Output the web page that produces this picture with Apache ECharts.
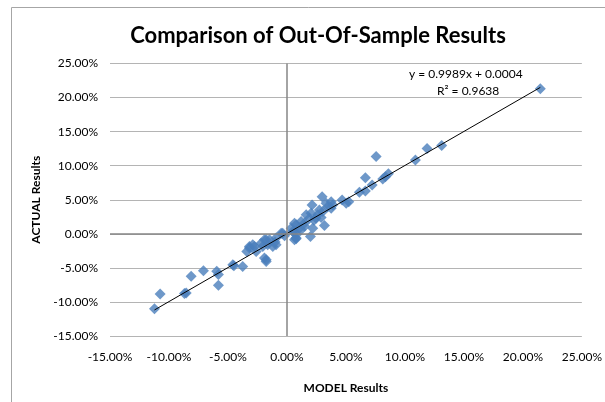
<!DOCTYPE html>
<html>
<head>
<meta charset="utf-8">
<script src="https://cdn.jsdelivr.net/npm/echarts@6/dist/echarts.min.js"></script>
<style>
html,body{margin:0;padding:0;background:#fff;}
#c{width:605px;height:402px;}
</style>
</head>
<body>
<div id="c"></div>
<script>
var chartTitle = 'Comparison of Out-Of-Sample Results';
var xAxisName = 'MODEL Results';
var yAxisName = 'ACTUAL Results';
var axisTicks = [-15, -10, -5, 0, 5, 10, 15, 20, 25];
// values in percent
var modelX = [21.48, 13.12, 11.88, 10.89, 7.56, 8.6, 8.35, 8.12, 7.22, 6.65, 6.65, 6.14,
  5.24, 4.68, 5.02, 3.75, 3.46, 2.98, 2.13, 3.18, 1.99, 0.78, 1.63, 3.32, 3.75, 3.88,
  2.75, 3.04, 2.61, 2.05, 2.47, 1.91, 1.2, 1.48, 0.64, 0.78, 1.06, 2.19, 0.36, 0.49,
  0.64, 1.2, 0.78, 0.64, 0.78, 2.3, 2.9, 1.5,
  -0.36, -0.49, -0.92, -1.48, -1.76, -1.91, -2.19, -1.63, -2.05, -1.2, -0.92, -2.9,
  -3.18, -2.61, -3.18, -2.75, -1.76, -1.91, -1.76, -3.75, -4.59, -4.5, -5.95, -5.81,
  -5.81, -7.08, -8.12, -8.54, -8.69, -10.75, -11.23, -1.0, -0.2, -3.4];
var actualY = [21.3, 12.97, 12.53, 10.82, 11.36, 8.82, 8.38, 8.04, 7.16, 8.23, 6.29, 6.1,
  4.72, 4.97, 4.49, 4.72, 3.99, 5.45, 4.24, 1.21, -0.39, -0.73, 2.78, 4.49, 3.76, 4.24,
  3.51, 3.26, 2.78, 3.03, 2.29, 2.29, 1.8, 1.56, 1.56, 1.32, 0.83, 0.83, 0.83, 0.34,
  0.34, 0.58, -0.15, -0.88, -0.63, 2.0, 2.4, 1.1,
  0.1, 0.1, -0.63, -0.88, -0.88, -0.88, -1.37, -1.61, -1.86, -1.86, -1.61, -1.61,
  -2.09, -2.59, -1.86, -1.86, -3.8, -3.55, -4.05, -4.78, -4.53, -4.68, -5.51, -5.99,
  -7.55, -5.41, -6.24, -8.67, -8.77, -8.82, -11.0, -1.2, -0.3, -2.6];
var trendSlope = 0.9989;
var trendIntercept = 0.0004;
var rSquared = 0.9638;

var points = modelX.map(function (x, i) { return [x, actualY[i]]; });
var xmin = Math.min.apply(null, modelX), xmax = Math.max.apply(null, modelX);
var trend = [[xmin, trendSlope * xmin + trendIntercept * 100], [xmax, trendSlope * xmax + trendIntercept * 100]];

var font = 'Lato, "Open Sans", sans-serif';
var chart = echarts.init(document.getElementById('c'));
chart.setOption({
  animation: false,
  backgroundColor: '#fff',
  title: {
    text: chartTitle, left: 313, top: 20, textAlign: 'center',
    textStyle: { fontFamily: font, fontSize: 22, fontWeight: 'bold', color: '#000' }
  },
  grid: { left: 110, right: 23, top: 63.5, bottom: 66 },
  xAxis: {
    type: 'value', min: axisTicks[0], max: axisTicks[axisTicks.length - 1], interval: 5,
    name: xAxisName, nameLocation: 'middle', nameGap: 46,
    nameTextStyle: { fontFamily: font, fontSize: 12, fontWeight: 'bold', color: '#000' },
    axisLine: { show: false }, axisTick: { show: false }, splitLine: { show: false },
    axisLabel: { margin: 15, fontFamily: font, fontSize: 12, color: '#000',
      formatter: function (v) { return v.toFixed(2) + '%'; } }
  },
  yAxis: {
    type: 'value', min: axisTicks[0], max: axisTicks[axisTicks.length - 1], interval: 5,
    name: yAxisName, nameLocation: 'middle', nameGap: 67, nameRotate: 90,
    nameTextStyle: { fontFamily: font, fontSize: 12, fontWeight: 'bold', color: '#000' },
    axisLine: { show: false }, axisTick: { show: false },
    splitLine: { show: true, lineStyle: { color: '#b4b4b4', width: 1 } },
    axisLabel: { margin: 12, fontFamily: font, fontSize: 12, color: '#000',
      formatter: function (v) { return v.toFixed(2) + '%'; } }
  },
  graphic: [
    { type: 'rect', silent: true, z: -1, shape: { x: 11.5, y: 7.5, width: 600, height: 400 },
      style: { fill: 'none', stroke: '#a6a6a6', lineWidth: 1 } },
    { type: 'text', left: 409, top: 68, style: { text: 'y = 0.9989x + 0.0004', font: '12px ' + font, fill: '#000' } },
    { type: 'text', left: 437, top: 85, style: { text: 'R² = 0.9638', font: '12px ' + font, fill: '#000' } }
  ],
  series: [
    {
      type: 'line', data: [], silent: true,
      markLine: {
        silent: true, symbol: 'none', label: { show: false },
        lineStyle: { color: '#868686', width: 1.5, type: 'solid' },
        data: [{ yAxis: 0 }, { xAxis: 0 }]
      }
    },
    {
      type: 'scatter', data: points, symbol: 'diamond', symbolSize: 11,
      itemStyle: { color: '#4a7ebb' }, z: 3
    },
    {
      type: 'line', data: trend, symbol: 'none', silent: true, z: 4,
      lineStyle: { color: '#000', width: 1 }
    }
  ]
});
</script>
</body>
</html>
